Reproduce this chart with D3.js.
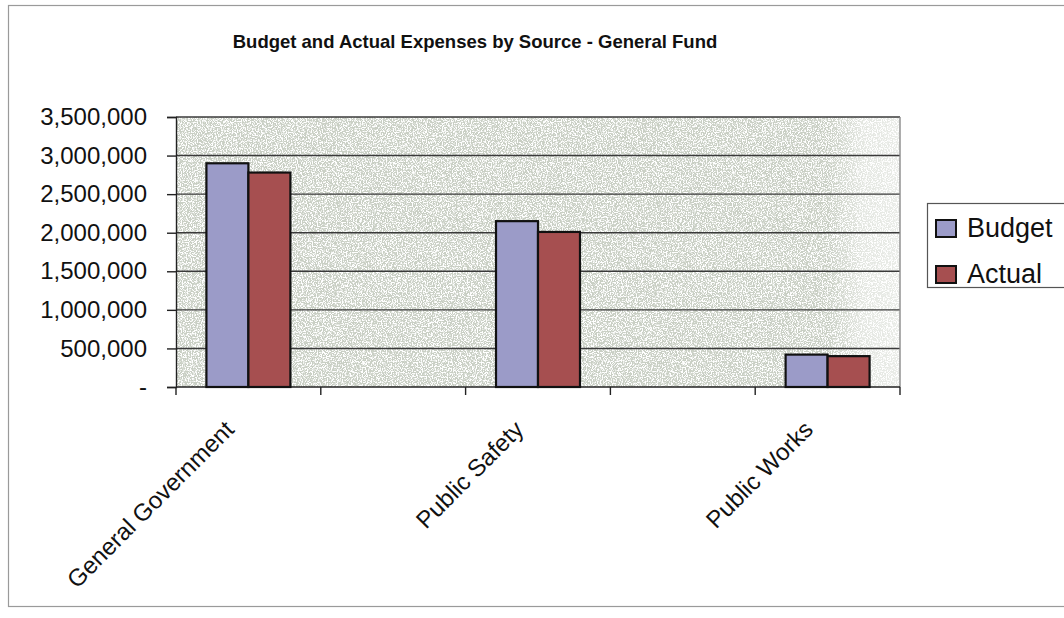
<!DOCTYPE html>
<html>
<head>
<meta charset="utf-8">
<script src="https://cdn.jsdelivr.net/npm/d3@7"></script>
<style>
  html, body { margin: 0; padding: 0; background: #ffffff; }
  svg { display: block; font-family: "Liberation Sans", Arial, sans-serif; }
</style>
</head>
<body>
<svg id="chart" width="1064" height="618"></svg>
<script>
// ---- data ----
const title = "Budget and Actual Expenses by Source - General Fund";
const categories = ["General Government", "", "Public Safety", "", "Public Works"];
const seriesNames = ["Budget", "Actual"];
const budget = [2900000, null, 2150000, null, 420000];
const actual = [2780000, null, 2010000, null, 400000];
const yTicks = [0, 500000, 1000000, 1500000, 2000000, 2500000, 3000000, 3500000];
const colors = ["#9b9bc8", "#a64f50"];

// ---- layout ----
const svg = d3.select("#chart");
const plot = { left: 176, right: 900, top: 117, bottom: 387 };

const x = d3.scaleBand().domain(d3.range(categories.length))
  .range([plot.left, plot.right]).padding(0);
const y = d3.scaleLinear().domain([0, 3500000]).range([plot.bottom, plot.top]);

const defs = svg.append("defs");
const f = defs.append("filter").attr("id", "noise")
  .attr("x", 0).attr("y", 0).attr("width", 1).attr("height", 1);
f.append("feTurbulence").attr("type", "fractalNoise").attr("baseFrequency", 0.8)
  .attr("numOctaves", 2).attr("seed", 4).attr("result", "t");
f.append("feColorMatrix").attr("in", "t").attr("type", "matrix")
  .attr("values", "0 0 0 0 1  0 0 0 0 1  0 0 0 0 1  7 0 0 0 -3.2").attr("result", "c");
f.append("feComposite").attr("in", "c").attr("in2", "SourceGraphic").attr("operator", "in");

const grad = defs.append("linearGradient").attr("id", "fade")
  .attr("x1", 0).attr("x2", 1).attr("y1", 0).attr("y2", 0);
grad.append("stop").attr("offset", "0.9").attr("stop-color", "#ffffff").attr("stop-opacity", 0);
grad.append("stop").attr("offset", "0.95").attr("stop-color", "#ffffff").attr("stop-opacity", 0.5);
grad.append("stop").attr("offset", "1").attr("stop-color", "#ffffff").attr("stop-opacity", 0.6);

// outer chart border
svg.append("rect").attr("x", 8.5).attr("y", 5.5).attr("width", 1070).attr("height", 601)
  .attr("fill", "#ffffff").attr("stroke", "#9a9a9a").attr("stroke-width", 1.2);

// plot background
const pw = plot.right - plot.left, ph = plot.bottom - plot.top;
svg.append("rect").attr("x", plot.left).attr("y", plot.top).attr("width", pw).attr("height", ph)
  .attr("fill", "#c9cfc4");
svg.append("rect").attr("x", plot.left).attr("y", plot.top).attr("width", pw).attr("height", ph)
  .attr("fill", "#ffffff").attr("filter", "url(#noise)");
svg.append("rect").attr("x", plot.left).attr("y", plot.top).attr("width", pw).attr("height", ph)
  .attr("fill", "url(#fade)");

// gridlines
svg.append("g").selectAll("line").data(yTicks.filter(d => d > 0)).join("line")
  .attr("x1", plot.left).attr("x2", plot.right)
  .attr("y1", d => y(d)).attr("y2", d => y(d))
  .attr("stroke", "#3a3a3a").attr("stroke-width", 1.4);
// right border of plot
svg.append("line").attr("x1", plot.right).attr("x2", plot.right)
  .attr("y1", plot.top).attr("y2", plot.bottom).attr("stroke", "#8a8a8a").attr("stroke-width", 1.4);

// y axis
const yAxis = d3.axisLeft(y).tickValues(yTicks).tickSize(9).tickPadding(20)
  .tickFormat(d => d === 0 ? "-" : d3.format(",")(d));
const gy = svg.append("g").attr("transform", `translate(${plot.left},0)`).call(yAxis);
gy.select(".domain").attr("stroke", "#222").attr("stroke-width", 1.4);
gy.selectAll(".tick line").attr("stroke", "#222").attr("stroke-width", 1.4);
gy.selectAll(".tick text").attr("font-size", 24).attr("fill", "#111")
  .attr("font-family", "Liberation Sans, Arial, sans-serif");

// x axis: ticks at band boundaries
const boundaries = d3.range(categories.length + 1).map(i => plot.left + i * x.bandwidth());
svg.append("line").attr("x1", plot.left).attr("x2", plot.right)
  .attr("y1", plot.bottom).attr("y2", plot.bottom).attr("stroke", "#222").attr("stroke-width", 1.4);
svg.append("g").selectAll("line").data(boundaries).join("line")
  .attr("x1", d => d).attr("x2", d => d)
  .attr("y1", plot.bottom).attr("y2", plot.bottom + 8)
  .attr("stroke", "#222").attr("stroke-width", 1.4);

// category labels
svg.append("g").selectAll("text").data(categories.map((c, i) => ({ c, i })).filter(d => d.c))
  .join("text")
  .attr("transform", d => `translate(${x(d.i) + x.bandwidth() / 2 - 13},${plot.bottom + 44}) rotate(-45)`)
  .attr("text-anchor", "end").attr("font-size", 24).attr("fill", "#111")
  .text(d => d.c);

// bars
const bw = x.bandwidth() * 0.29;
const series = [budget, actual];
series.forEach((vals, si) => {
  svg.append("g").selectAll("rect")
    .data(vals.map((v, i) => ({ v, i })).filter(d => d.v != null))
    .join("rect")
    .attr("x", d => x(d.i) + x.bandwidth() / 2 - bw + si * bw)
    .attr("y", d => y(d.v))
    .attr("width", bw)
    .attr("height", d => y(0) - y(d.v))
    .attr("fill", colors[si]).attr("stroke", "#111").attr("stroke-width", 2.2);
});

// title
svg.append("text").attr("x", 475).attr("y", 48).attr("text-anchor", "middle")
  .attr("font-size", 18.5).attr("font-weight", "bold").attr("fill", "#111").text(title);

// legend
const lg = svg.append("g");
lg.append("rect").attr("x", 927.5).attr("y", 203.5).attr("width", 140).attr("height", 84)
  .attr("fill", "#ffffff").attr("stroke", "#555").attr("stroke-width", 1.2);
seriesNames.forEach((n, i) => {
  lg.append("rect").attr("x", 936).attr("y", 220 + i * 46).attr("width", 20).attr("height", 17)
    .attr("fill", colors[i]).attr("stroke", "#111").attr("stroke-width", 2);
  lg.append("text").attr("x", 967).attr("y", 237 + i * 46).attr("font-size", 27)
    .attr("fill", "#111").text(n);
});
</script>
</body>
</html>
